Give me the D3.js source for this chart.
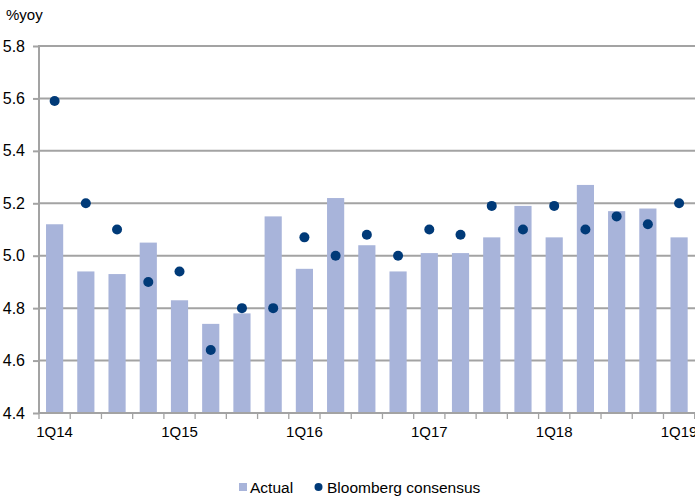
<!DOCTYPE html>
<html>
<head>
<meta charset="utf-8">
<script src="https://cdn.jsdelivr.net/npm/d3@7"></script>
<style>
  html, body { margin: 0; padding: 0; background: #fff; }
  svg { display: block; font-family: "Liberation Sans", Arial, sans-serif; }
</style>
</head>
<body>
<svg id="chart" width="695" height="502"></svg>
<script>
// Quarterly GDP growth, %yoy: actual outturn vs Bloomberg consensus
const quarters = ["1Q14","2Q14","3Q14","4Q14","1Q15","2Q15","3Q15","4Q15",
                  "1Q16","2Q16","3Q16","4Q16","1Q17","2Q17","3Q17","4Q17",
                  "1Q18","2Q18","3Q18","4Q18","1Q19"];
const actual = [5.12, 4.94, 4.93, 5.05, 4.83, 4.74, 4.78, 5.15,
                4.95, 5.22, 5.04, 4.94, 5.01, 5.01, 5.07, 5.19,
                5.07, 5.27, 5.17, 5.18, 5.07];
const consensus = [5.59, 5.20, 5.10, 4.90, 4.94, 4.64, 4.80, 4.80,
                   5.07, 5.00, 5.08, 5.00, 5.10, 5.08, 5.19, 5.10,
                   5.19, 5.10, 5.15, 5.12, 5.20];
const yTicks = [4.4, 4.6, 4.8, 5.0, 5.2, 5.4, 5.6, 5.8];
const xLabelQuarters = ["1Q14", "1Q15", "1Q16", "1Q17", "1Q18", "1Q19"];

const svg = d3.select("#chart");
const gridColor = "#a3a3a3";
const barColor = "#a8b4da";
const dotColor = "#003a78";

const x = d3.scaleBand()
  .domain(quarters)
  .range([39, 694.7])
  .paddingInner(0.45)
  .paddingOuter(0.225);

const y = d3.scaleLinear().domain([4.4, 5.8]).range([413, 46]);

// unit label
svg.append("text")
  .attr("x", 6).attr("y", 20)
  .attr("font-size", 15).attr("fill", "#000")
  .text("%yoy");

// horizontal gridlines
svg.append("g")
  .selectAll("line")
  .data(yTicks.filter(t => t > 4.4))
  .join("line")
  .attr("x1", 39).attr("x2", 695)
  .attr("y1", d => y(d)).attr("y2", d => y(d))
  .attr("stroke", gridColor).attr("stroke-width", 2);

// y axis
const yAxis = svg.append("g")
  .attr("transform", "translate(39,0)")
  .call(d3.axisLeft(y).tickValues(yTicks).tickFormat(d3.format(".1f")).tickSize(6).tickPadding(8));
yAxis.select(".domain").attr("stroke", gridColor).attr("stroke-width", 2).attr("d", `M0,${y(4.4) + 1}V${y(5.8) - 1}`);
yAxis.selectAll(".tick line").attr("stroke", gridColor).attr("stroke-width", 2);
yAxis.selectAll(".tick text")
  .attr("font-size", 16).attr("fill", "#000")
  .attr("font-family", "'Liberation Sans', Arial, sans-serif");

// bars: actual
svg.append("g")
  .selectAll("rect")
  .data(quarters)
  .join("rect")
  .attr("x", d => x(d))
  .attr("width", x.bandwidth())
  .attr("y", (d, i) => y(actual[i]))
  .attr("height", (d, i) => y(4.4) - y(actual[i]))
  .attr("fill", barColor);

// x axis baseline and quarter boundary ticks
const step = x.step();
const boundaries = d3.range(quarters.length + 1).map(i => x.range()[0] + i * step);
svg.append("line")
  .attr("x1", 38).attr("x2", 695)
  .attr("y1", y(4.4)).attr("y2", y(4.4))
  .attr("stroke", gridColor).attr("stroke-width", 2);
svg.append("g")
  .selectAll("line")
  .data(boundaries)
  .join("line")
  .attr("x1", d => d).attr("x2", d => d)
  .attr("y1", y(4.4)).attr("y2", y(4.4) + 6)
  .attr("stroke", gridColor).attr("stroke-width", 1.3);

// x labels, one per year
svg.append("g")
  .selectAll("text")
  .data(xLabelQuarters)
  .join("text")
  .attr("x", d => x(d) + x.bandwidth() / 2)
  .attr("y", 437)
  .attr("text-anchor", "middle")
  .attr("font-size", 15).attr("fill", "#000")
  .text(d => d);

// consensus dots
svg.append("g")
  .selectAll("circle")
  .data(quarters)
  .join("circle")
  .attr("cx", d => x(d) + x.bandwidth() / 2)
  .attr("cy", (d, i) => y(consensus[i]))
  .attr("r", 5)
  .attr("fill", dotColor);

// legend
const legend = svg.append("g");
legend.append("rect")
  .attr("x", 239).attr("y", 483).attr("width", 8).attr("height", 8)
  .attr("fill", barColor);
legend.append("text")
  .attr("x", 250).attr("y", 493)
  .attr("font-size", 15.5).attr("fill", "#000")
  .text("Actual");
legend.append("circle")
  .attr("cx", 318.5).attr("cy", 487).attr("r", 4)
  .attr("fill", dotColor);
legend.append("text")
  .attr("x", 327).attr("y", 493)
  .attr("font-size", 15.5).attr("fill", "#000")
  .text("Bloomberg consensus");
</script>
</body>
</html>
